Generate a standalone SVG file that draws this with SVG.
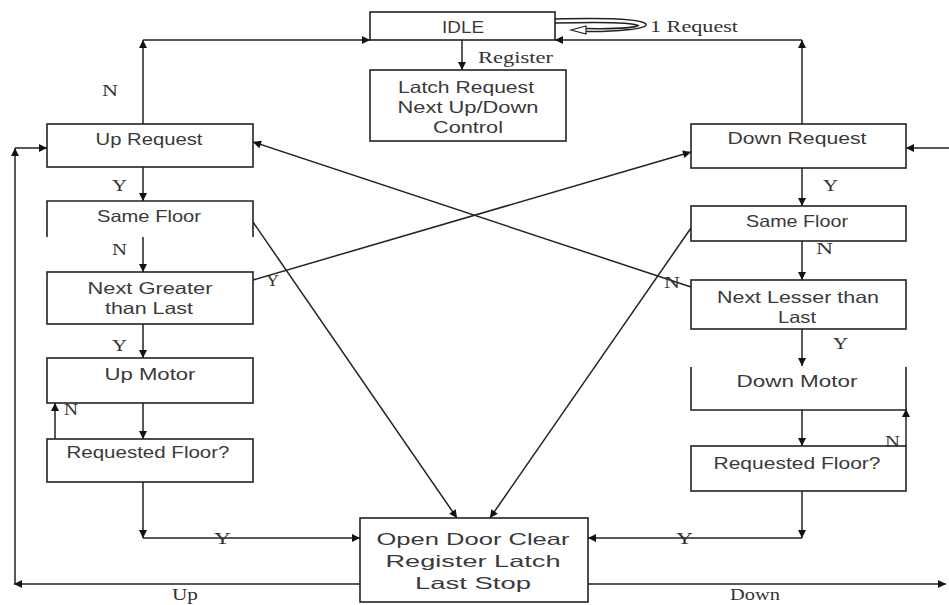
<svg xmlns="http://www.w3.org/2000/svg" width="949" height="605" viewBox="0 0 949 605">
<defs>
<marker id="ah" viewBox="0 0 10 10" refX="10" refY="5" markerWidth="10" markerHeight="8" markerUnits="userSpaceOnUse" orient="auto"><path d="M0,0 L10,5 L0,10 z" fill="#111"/></marker>
<style>
.box{fill:#fff;stroke:#222;stroke-width:1.6}
.open{fill:none;stroke:#222;stroke-width:1.6}
.ln{fill:none;stroke:#222;stroke-width:1.5}
.ar{fill:none;stroke:#222;stroke-width:1.5;marker-end:url(#ah)}
.t{font-family:"Liberation Sans",Arial,sans-serif;font-size:16.5px;fill:#3a3a3a;text-anchor:middle}
.s{font-family:"Liberation Serif",serif;font-size:16px;fill:#333}
</style>
</defs>
<rect width="949" height="605" fill="#fff"/>

<g id="connectors">
<line class="ar" x1="143" y1="124" x2="143" y2="40"/>
<line class="ar" x1="143" y1="40" x2="370" y2="40"/>
<line class="ar" x1="802" y1="124" x2="802" y2="40"/>
<line class="ar" x1="802" y1="40" x2="555" y2="40"/>
<line class="ar" x1="462" y1="40" x2="462" y2="70"/>
<path class="ln" d="M555,19 C595,18 640,18 646,24 C649,29 615,32 584,31.5" stroke-width="1.2"/>
<path class="ln" d="M555,23 C595,22 632,22 638,25.5 C634,28 612,29 584,28.5" stroke-width="1.2"/>
<polygon points="571,30 586,26 586,34" fill="#fff" stroke="#222" stroke-width="1.2"/>
<line class="ar" x1="143" y1="167" x2="143" y2="201"/>
<line class="ar" x1="143" y1="237" x2="143" y2="272"/>
<line class="ar" x1="143" y1="324" x2="143" y2="358"/>
<line class="ar" x1="143" y1="403" x2="143" y2="439"/>
<line class="ar" x1="55" y1="439" x2="55" y2="403"/>
<line class="ar" x1="143" y1="482" x2="143" y2="538"/>
<line class="ar" x1="143" y1="538" x2="360" y2="538"/>
<line class="ar" x1="253" y1="280" x2="691" y2="152"/>
<line class="ar" x1="253" y1="222" x2="457" y2="518"/>
<line class="ar" x1="691" y1="228" x2="490" y2="518"/>
<line class="ar" x1="691" y1="287" x2="253" y2="142"/>
<line class="ar" x1="802" y1="168" x2="802" y2="206"/>
<line class="ar" x1="802" y1="241" x2="802" y2="280"/>
<line class="ar" x1="802" y1="329" x2="802" y2="366"/>
<line class="ar" x1="802" y1="410" x2="802" y2="446"/>
<line class="ar" x1="906" y1="446" x2="906" y2="409"/>
<line class="ar" x1="802" y1="491" x2="802" y2="538"/>
<line class="ar" x1="802" y1="538" x2="588" y2="538"/>
<line class="ar" x1="949" y1="148" x2="906" y2="148"/>
<line class="ar" x1="360" y1="584" x2="14" y2="584"/>
<line class="ar" x1="15" y1="584" x2="15" y2="148"/>
<line class="ar" x1="15" y1="148" x2="47" y2="148"/>
<line class="ar" x1="588" y1="584" x2="946" y2="584"/>
</g>

<g id="idle"><rect class="box" x="370" y="12" width="185" height="28"/><text class="t" x="463" y="33" font-size="13" textLength="42" lengthAdjust="spacingAndGlyphs">IDLE</text></g>
<g id="latch"><rect class="box" x="370" y="70" width="196" height="71"/>
<text class="t" x="466" y="93" textLength="136" lengthAdjust="spacingAndGlyphs">Latch Request</text>
<text class="t" x="468" y="113" textLength="141" lengthAdjust="spacingAndGlyphs">Next Up/Down</text>
<text class="t" x="468" y="133" textLength="70" lengthAdjust="spacingAndGlyphs">Control</text></g>

<g id="up-request"><rect class="box" x="47" y="124" width="206" height="43"/><text class="t" x="149" y="145" textLength="107" lengthAdjust="spacingAndGlyphs">Up Request</text></g>
<g id="same-floor-left"><path class="open" d="M47,237 V201 H253 V237"/><text class="t" x="149" y="222" textLength="104" lengthAdjust="spacingAndGlyphs">Same Floor</text></g>
<g id="next-greater"><rect class="box" x="47" y="272" width="206" height="52"/>
<text class="t" x="150" y="294" textLength="125" lengthAdjust="spacingAndGlyphs">Next Greater</text>
<text class="t" x="149" y="314" textLength="88" lengthAdjust="spacingAndGlyphs">than Last</text></g>
<g id="up-motor"><rect class="box" x="47" y="358" width="206" height="45"/><text class="t" x="150" y="380" textLength="91" lengthAdjust="spacingAndGlyphs">Up Motor</text></g>
<g id="req-floor-left"><rect class="box" x="47" y="439" width="206" height="43"/><text class="t" x="148" y="458" textLength="163" lengthAdjust="spacingAndGlyphs">Requested Floor?</text></g>

<g id="down-request"><rect class="box" x="691" y="124" width="215" height="44"/><text class="t" x="797" y="144" textLength="139" lengthAdjust="spacingAndGlyphs">Down Request</text></g>
<g id="same-floor-right"><rect class="box" x="691" y="206" width="215" height="35"/><text class="t" x="797" y="227" textLength="102" lengthAdjust="spacingAndGlyphs">Same Floor</text></g>
<g id="next-lesser"><rect class="box" x="691" y="280" width="215" height="49"/>
<text class="t" x="798" y="303" textLength="162" lengthAdjust="spacingAndGlyphs">Next Lesser than</text>
<text class="t" x="797" y="323" textLength="38" lengthAdjust="spacingAndGlyphs">Last</text></g>
<g id="down-motor"><path class="open" d="M691,367 V410 H906 V367"/><text class="t" x="797" y="387" textLength="121" lengthAdjust="spacingAndGlyphs">Down Motor</text></g>
<g id="req-floor-right"><rect class="box" x="691" y="446" width="215" height="45"/><text class="t" x="797" y="469" textLength="167" lengthAdjust="spacingAndGlyphs">Requested Floor?</text></g>

<g id="open-door"><rect class="box" x="360" y="518" width="228" height="84"/>
<text class="t" x="473" y="545" font-size="19" textLength="193" lengthAdjust="spacingAndGlyphs">Open Door Clear</text>
<text class="t" x="473" y="567" font-size="19" textLength="175" lengthAdjust="spacingAndGlyphs">Register Latch</text>
<text class="t" x="473" y="589" font-size="19" textLength="116" lengthAdjust="spacingAndGlyphs">Last Stop</text></g>

<g id="labels">
<text class="s" x="650" y="32" textLength="88" lengthAdjust="spacingAndGlyphs">1 Request</text>
<text class="s" x="478" y="63" textLength="75" lengthAdjust="spacingAndGlyphs">Register</text>
<text class="s" x="102" y="96" textLength="16" lengthAdjust="spacingAndGlyphs">N</text>
<text class="s" x="112" y="191" textLength="15" lengthAdjust="spacingAndGlyphs">Y</text>
<text class="s" x="112" y="255" textLength="15" lengthAdjust="spacingAndGlyphs">N</text>
<text class="s" x="266" y="286" textLength="13" lengthAdjust="spacingAndGlyphs">Y</text>
<text class="s" x="112" y="351" textLength="15" lengthAdjust="spacingAndGlyphs">Y</text>
<text class="s" x="64" y="415" textLength="14" lengthAdjust="spacingAndGlyphs">N</text>
<text class="s" x="823" y="191" textLength="15" lengthAdjust="spacingAndGlyphs">Y</text>
<text class="s" x="816" y="254" textLength="17" lengthAdjust="spacingAndGlyphs">N</text>
<text class="s" x="664" y="288" textLength="16" lengthAdjust="spacingAndGlyphs">N</text>
<text class="s" x="833" y="349" textLength="15" lengthAdjust="spacingAndGlyphs">Y</text>
<text class="s" x="885" y="447" textLength="15" lengthAdjust="spacingAndGlyphs">N</text>
<text class="s" x="214" y="544" textLength="17" lengthAdjust="spacingAndGlyphs">Y</text>
<text class="s" x="676" y="544" textLength="17" lengthAdjust="spacingAndGlyphs">Y</text>
<text class="s" x="172" y="600" font-size="15" textLength="26" lengthAdjust="spacingAndGlyphs">Up</text>
<text class="s" x="730" y="600" font-size="15" textLength="50" lengthAdjust="spacingAndGlyphs">Down</text>
</g>
</svg>
